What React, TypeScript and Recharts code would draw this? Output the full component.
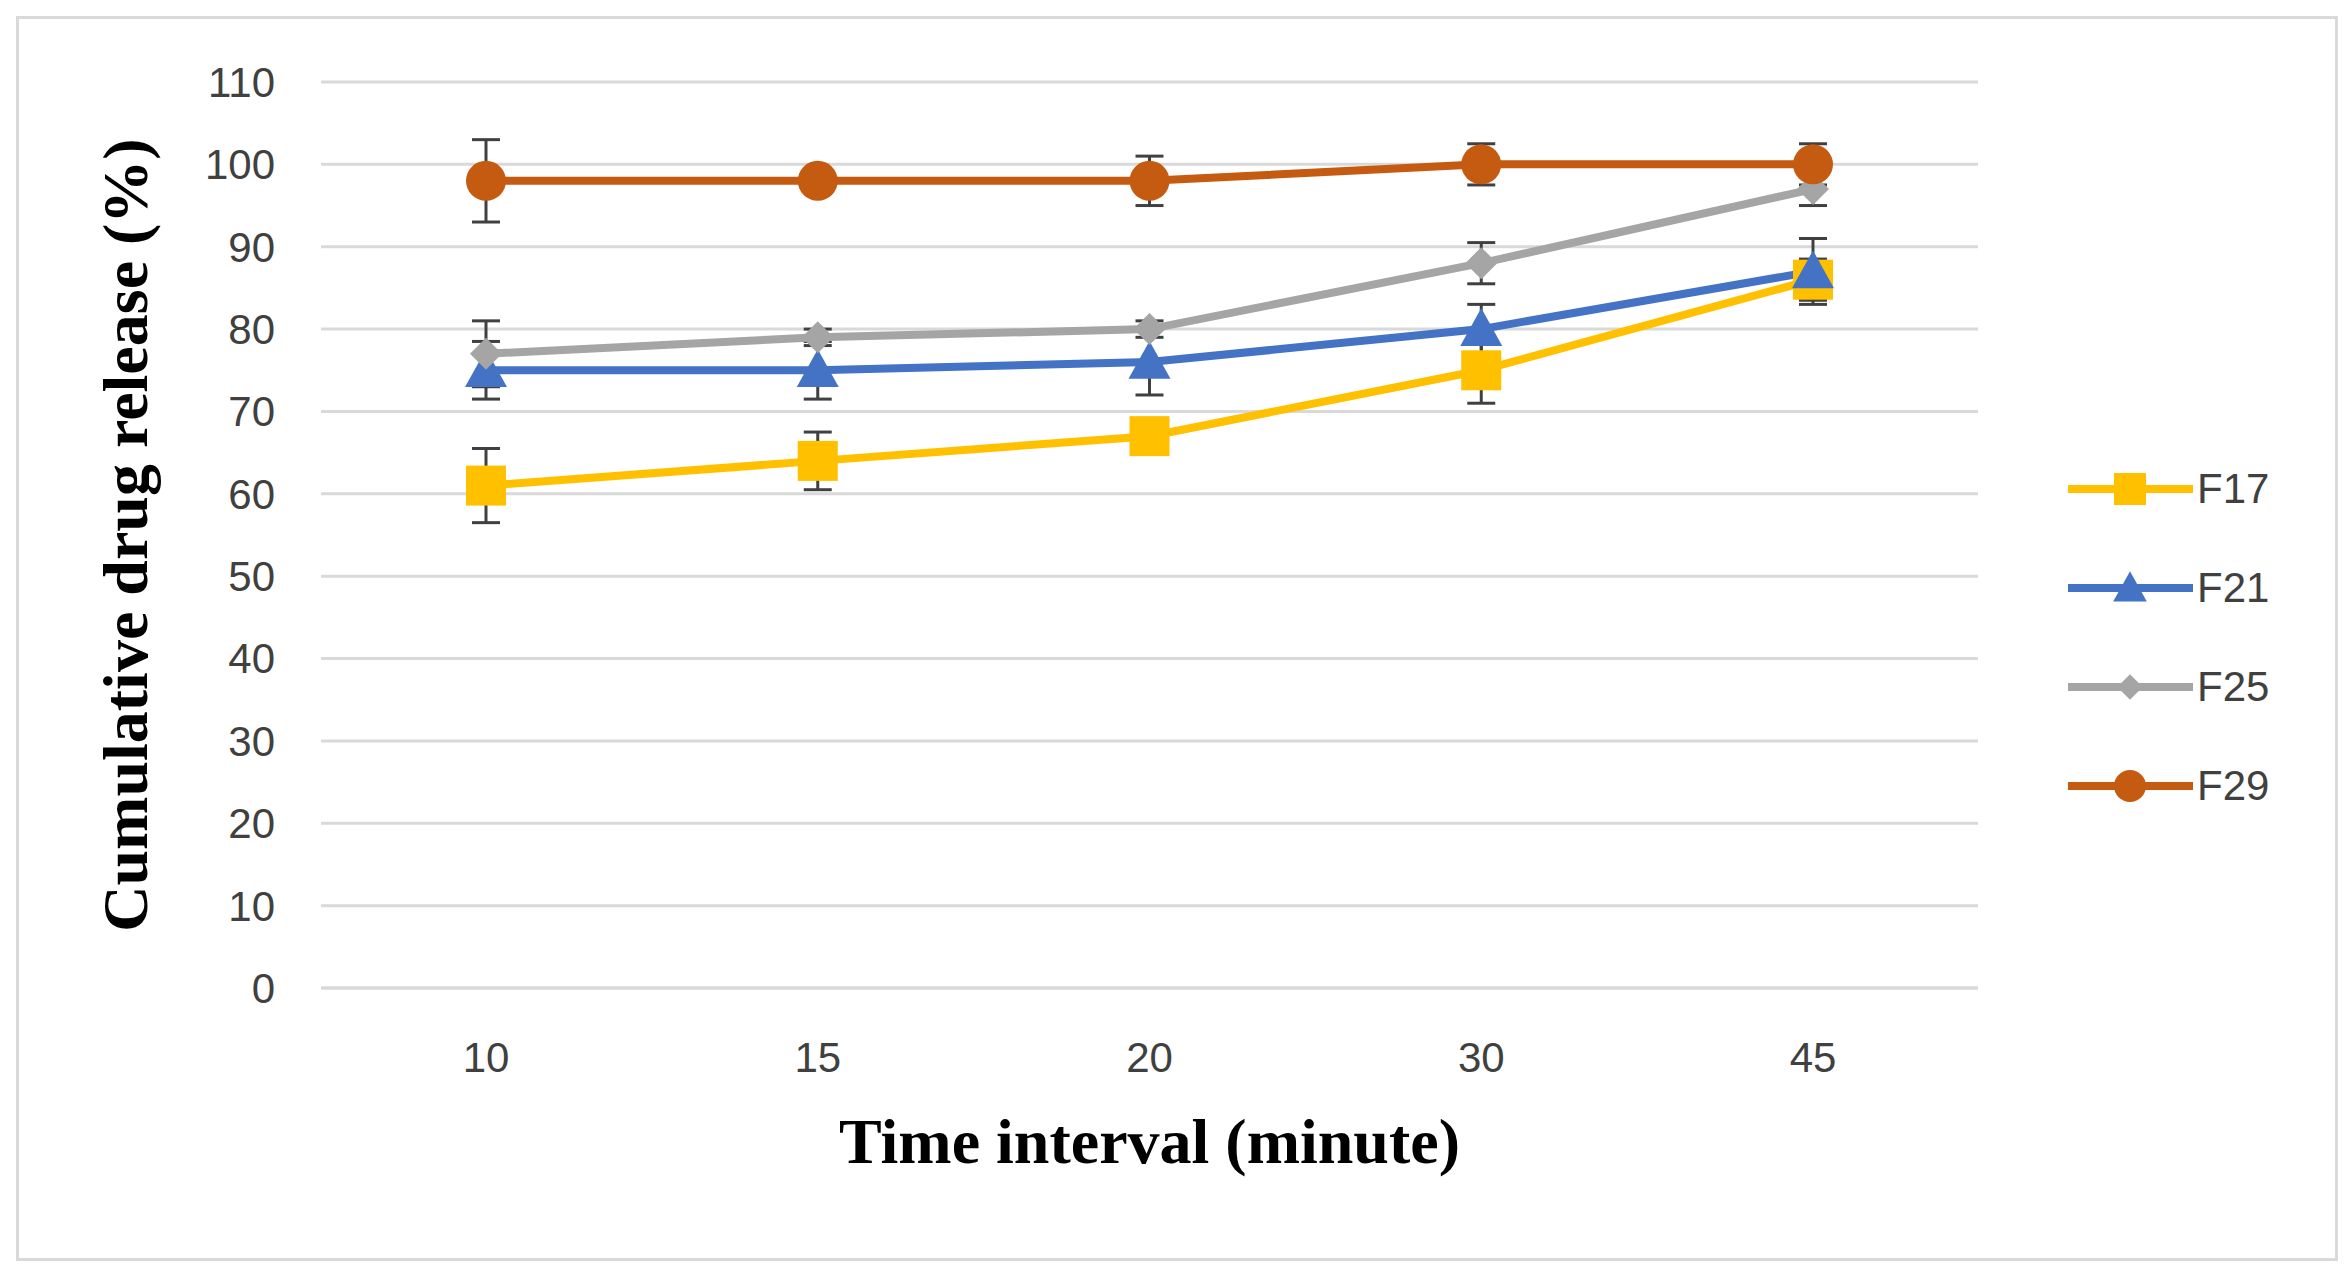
import React from "react";
import { LineChart, Line, XAxis, YAxis, CartesianGrid, ErrorBar, Legend } from "recharts";

const times = ["10", "15", "20", "30", "45"];
const f17 = [61, 64, 67, 75, 86];
const f21 = [75, 75, 76, 80, 87];
const f25 = [77, 79, 80, 88, 97];
const f29 = [98, 98, 98, 100, 100];
const e17 = [4.5, 3.5, 1, 4, 2.5];
const e21 = [3.5, 3.5, 4, 3, 4];
const e25 = [4, 1, 1, 2.5, 2];
const e29 = [5, 1, 3, 2.5, 2.5];
const yTicks = [0, 10, 20, 30, 40, 50, 60, 70, 80, 90, 100, 110];

const data = times.map((t, i) => ({
  t, f17: f17[i], f21: f21[i], f25: f25[i], f29: f29[i],
  e17: e17[i], e21: e21[i], e25: e25[i], e29: e29[i],
}));

const series = [
  { key: "f17", err: "e17", name: "F17", color: "#ffc000", shape: "square" },
  { key: "f21", err: "e21", name: "F21", color: "#4472c4", shape: "triangle" },
  { key: "f25", err: "e25", name: "F25", color: "#a5a5a5", shape: "diamond" },
  { key: "f29", err: "e29", name: "F29", color: "#c55a11", shape: "circle" },
];

function Marker({ cx, cy, shape, color, s = 1 }: any) {
  if (cx == null || cy == null) return null;
  if (shape === "square") return <rect x={cx - 20 * s} y={cy - 20 * s} width={40 * s} height={40 * s} fill={color} />;
  if (shape === "triangle") { const r = 21 * s; return <polygon points={`${cx},${cy - r} ${cx + r},${cy + r * 0.8} ${cx - r},${cy + r * 0.8}`} fill={color} />; }
  if (shape === "diamond") { const r = 16 * s; return <polygon points={`${cx},${cy - r} ${cx + r},${cy} ${cx},${cy + r} ${cx - r},${cy}`} fill={color} />; }
  return <circle cx={cx} cy={cy} r={20 * s} fill={color} />;
}

const LegendContent = () => (
  <div>
    {series.map((s) => (
      <div key={s.key} style={{ display: "flex", alignItems: "center", height: 99 }}>
        <svg width={125} height={50}>
          <line x1={0} y1={25} x2={125} y2={25} stroke={s.color} strokeWidth={8} />
          <Marker cx={62} cy={25} shape={s.shape} color={s.color} s={0.8} />
        </svg>
        <span style={{ fontFamily: "Liberation Sans, Arial, sans-serif", fontSize: 42, color: "#404040", marginLeft: 4 }}>{s.name}</span>
      </div>
    ))}
  </div>
);

export default function App() {
  return (
    <div style={{ position: "absolute", left: 16, top: 16, width: 2316, height: 1239, border: "3px solid #d9d9d9", background: "#fff" }}>
      <LineChart width={2316} height={1239} data={data} margin={{ top: 63, right: 97, left: 0, bottom: 0 }}>
        <CartesianGrid vertical={false} stroke="#d9d9d9" strokeWidth={3} />
        <XAxis dataKey="t" height={270} padding={{ left: 165, right: 165 }} axisLine={{ stroke: "#d9d9d9", strokeWidth: 3 }} tickLine={false}
          tickMargin={48} tick={{ fontSize: 42, fill: "#404040", fontFamily: "Liberation Sans, Arial, sans-serif" }}
          label={{ value: "Time interval (minute)", position: "insideBottom", offset: 95, style: { fontSize: 64, fontWeight: "bold", fill: "#000", fontFamily: "Liberation Serif, Times New Roman, serif" } }} />
        <YAxis width={302} domain={[0, 110]} ticks={yTicks} axisLine={false} tickLine={false} tickMargin={40} interval={0}
          tick={{ fontSize: 42, fill: "#404040", fontFamily: "Liberation Sans, Arial, sans-serif" }}
          label={{ value: "Cumulative drug release (%)", angle: -90, position: "insideLeft", dx: 100, style: { textAnchor: "middle", fontSize: 64, fontWeight: "bold", fill: "#000", fontFamily: "Liberation Serif, Times New Roman, serif" } }} />
        <Legend layout="vertical" align="right" verticalAlign="top" content={<LegendContent />}
          wrapperStyle={{ left: 2049, top: 420, width: 260 }} />
        {series.map((s) => (
          <Line key={s.key} dataKey={s.key} name={s.name} stroke={s.color} strokeWidth={8} isAnimationActive={false}
            dot={(p: any) => <Marker key={p.index} cx={p.cx} cy={p.cy} shape={s.shape} color={s.color} />} activeDot={false}>
            <ErrorBar dataKey={s.err} width={14} stroke="#404040" strokeWidth={3} />
          </Line>
        ))}
      </LineChart>
    </div>
  );
}
